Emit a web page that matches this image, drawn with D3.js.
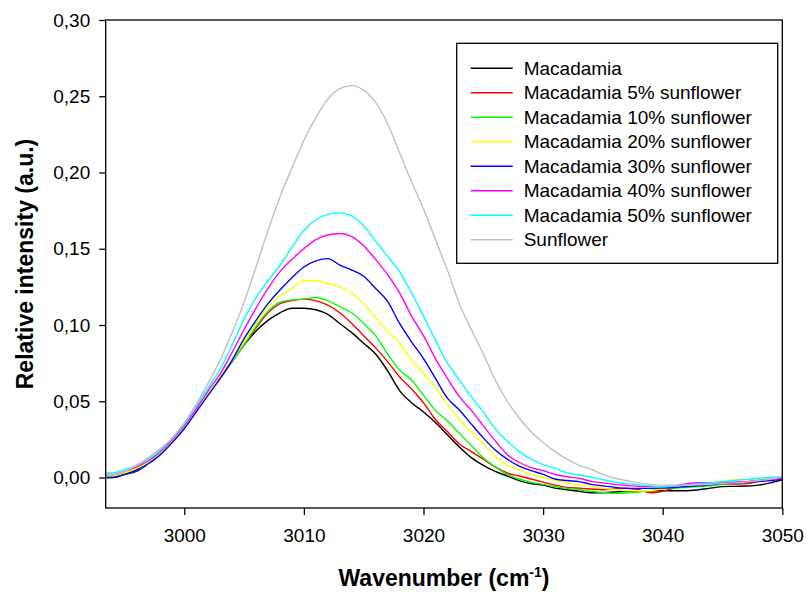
<!DOCTYPE html>
<html>
<head>
<meta charset="utf-8">
<script src="https://cdn.jsdelivr.net/npm/d3@7"></script>
<style>
  body { margin: 0; background: #fff; }
  text { font-family: "Liberation Sans", Arial, sans-serif; }
</style>
</head>
<body>
<div id="chart-container"></div>
<script>
const wavenumber = [2993.5, 2994, 2995, 2996, 2997, 2998, 2999, 3000, 3001, 3002,
  3003, 3004, 3005, 3006, 3007, 3008, 3009, 3010, 3011, 3012,
  3013, 3014, 3015, 3016, 3017, 3018, 3019, 3020, 3021, 3022,
  3023, 3024, 3025, 3026, 3027, 3028, 3029, 3030, 3031, 3032,
  3033, 3034, 3035, 3036, 3037, 3038, 3039, 3040, 3041, 3042,
  3043, 3044, 3045, 3046, 3047, 3048, 3049, 3050];

const macadamia = [0.000, 0.000, 0.002, 0.005, 0.010, 0.016, 0.024, 0.033, 0.044, 0.055,
  0.065, 0.076, 0.087, 0.096, 0.103, 0.108, 0.111, 0.111, 0.110, 0.107,
  0.101, 0.095, 0.088, 0.081, 0.070, 0.057, 0.049, 0.043, 0.036, 0.028,
  0.020, 0.013, 0.008, 0.004, 0.001, -0.002, -0.004, -0.005, -0.007, -0.008,
  -0.009, -0.010, -0.010, -0.0095, -0.009, -0.009, -0.0088, -0.0087, -0.0087, -0.0087,
  -0.008, -0.007, -0.006, -0.0058, -0.0056, -0.005, -0.0035, -0.0015];

const mac5 = [0.001, 0.001, 0.003, 0.006, 0.010, 0.016, 0.024, 0.033, 0.044, 0.055,
  0.065, 0.076, 0.087, 0.098, 0.108, 0.114, 0.116, 0.117, 0.116, 0.113,
  0.108, 0.101, 0.093, 0.085, 0.076, 0.066, 0.058, 0.049, 0.038, 0.030,
  0.022, 0.017, 0.012, 0.007, 0.003, 0.001, -0.001, -0.003, -0.005, -0.0065,
  -0.007, -0.0075, -0.008, -0.0075, -0.007, -0.008, -0.010, -0.009, -0.007, -0.006,
  -0.005, -0.0045, -0.0045, -0.0043, -0.004, -0.0025, -0.0012, 0.0001];

const mac10 = [0.001, 0.001, 0.003, 0.006, 0.010, 0.016, 0.024, 0.033, 0.044, 0.055,
  0.065, 0.076, 0.087, 0.099, 0.109, 0.115, 0.1165, 0.117, 0.118, 0.116,
  0.112, 0.108, 0.101, 0.093, 0.081, 0.0705, 0.064, 0.054, 0.044, 0.037,
  0.029, 0.021, 0.013, 0.007, 0.002, -0.001, -0.003, -0.0045, -0.006, -0.0072,
  -0.008, -0.009, -0.0098, -0.0104, -0.010, -0.0095, -0.0085, -0.0075, -0.007, -0.0065,
  -0.006, -0.0055, -0.0045, -0.0038, -0.003, -0.002, -0.001, -0.0005];

const mac20 = [0.001, 0.001, 0.003, 0.006, 0.010, 0.016, 0.024, 0.033, 0.044, 0.055,
  0.066, 0.077, 0.089, 0.101, 0.112, 0.119, 0.124, 0.129, 0.129, 0.1273,
  0.125, 0.121, 0.114, 0.105, 0.096, 0.088, 0.077, 0.068, 0.059, 0.048,
  0.038, 0.030, 0.022, 0.014, 0.008, 0.005, 0.002, 0.000, -0.002, -0.0035,
  -0.0048, -0.0058, -0.007, -0.008, -0.0087, -0.0087, -0.0085, -0.0075, -0.006, -0.005,
  -0.0045, -0.0038, -0.0025, -0.0015, -0.0012, -0.0018, -0.001, 0.0001];

const mac30 = [0.000, 0.000, 0.002, 0.004, 0.009, 0.015, 0.023, 0.032, 0.043, 0.054,
  0.065, 0.077, 0.091, 0.103, 0.114, 0.123, 0.131, 0.138, 0.142, 0.1435,
  0.1393, 0.136, 0.132, 0.124, 0.1155, 0.101, 0.089, 0.078, 0.065, 0.052,
  0.0443, 0.035, 0.026, 0.018, 0.012, 0.0075, 0.0045, 0.002, -0.001, -0.002,
  -0.0027, -0.0045, -0.0055, -0.0065, -0.0071, -0.0071, -0.0071, -0.007, -0.0065, -0.006,
  -0.0055, -0.0048, -0.004, -0.0036, -0.003, -0.0027, -0.002, -0.0012];

const mac40 = [0.002, 0.002, 0.004, 0.007, 0.011, 0.017, 0.025, 0.034, 0.045, 0.057,
  0.068, 0.082, 0.097, 0.111, 0.124, 0.135, 0.143, 0.150, 0.156, 0.159,
  0.160, 0.158, 0.152, 0.143, 0.133, 0.121, 0.106, 0.093, 0.078, 0.065,
  0.053, 0.044, 0.034, 0.024, 0.015, 0.010, 0.0065, 0.0045, 0.002, 0.0005,
  -0.0005, -0.0025, -0.0035, -0.0045, -0.0052, -0.0058, -0.006, -0.006, -0.0055, -0.004,
  -0.0034, -0.0034, -0.0032, -0.003, -0.0027, -0.002, -0.0012, -0.0005];

const mac50 = [0.003, 0.003, 0.005, 0.008, 0.012, 0.018, 0.026, 0.035, 0.047, 0.059,
  0.071, 0.087, 0.104, 0.118, 0.129, 0.139, 0.151, 0.162, 0.169, 0.1725,
  0.1735, 0.1715, 0.165, 0.155, 0.145, 0.135, 0.121, 0.106, 0.090, 0.075,
  0.064, 0.053, 0.043, 0.032, 0.024, 0.017, 0.012, 0.0085, 0.006, 0.003,
  0.0016, 0.0002, -0.0015, -0.003, -0.004, -0.0048, -0.0055, -0.006, -0.0055, -0.005,
  -0.0042, -0.0035, -0.0028, -0.002, -0.0012, -0.0005, 0.0000, 0.0005];

const sunflower = [0.002, 0.002, 0.004, 0.008, 0.013, 0.019, 0.026, 0.036, 0.048, 0.062,
  0.077, 0.095, 0.115, 0.138, 0.162, 0.184, 0.203, 0.221, 0.236, 0.248,
  0.255, 0.257, 0.254, 0.246, 0.232, 0.213, 0.194, 0.176, 0.156, 0.136,
  0.114, 0.097, 0.081, 0.064, 0.050, 0.039, 0.030, 0.023, 0.017, 0.012,
  0.008, 0.0055, 0.002, -0.0005, -0.002, -0.0035, -0.0045, -0.005, -0.005, -0.005,
  -0.0048, -0.0045, -0.004, -0.0035, -0.003, -0.002, -0.001, 0.0005];

const seriesNames = ["Macadamia", "Macadamia 5% sunflower", "Macadamia 10% sunflower",
  "Macadamia 20% sunflower", "Macadamia 30% sunflower", "Macadamia 40% sunflower",
  "Macadamia 50% sunflower", "Sunflower"];
const seriesValues = [macadamia, mac5, mac10, mac20, mac30, mac40, mac50, sunflower];
const seriesColors = ["#000000", "#ff0000", "#00ff00", "#ffff00", "#0000ff", "#ff00ff", "#00ffff", "#c0c0c0"];

const xTicks = [3000, 3010, 3020, 3030, 3040, 3050];
const yTicks = [0, 0.05, 0.10, 0.15, 0.20, 0.25, 0.30];

const chartWidth = 806;
const chartHeight = 592;
const margin = { top: 20, right: 23.7, bottom: 84, left: 105.7 };
const width = chartWidth - margin.left - margin.right;
const height = chartHeight - margin.top - margin.bottom;

const svg = d3.select("#chart-container")
    .append("svg")
    .attr("width", chartWidth)
    .attr("height", chartHeight)
    .append("g")
    .attr("transform", `translate(${margin.left}, ${margin.top})`);

const xScale = d3.scaleLinear()
    .domain([2993.43, 3050])
    .range([0, width]);

const yScale = d3.scaleLinear()
    .domain([-0.02, 0.30])
    .range([height, 0]);

const commaFormat = d => d3.format(".2f")(d).replace(".", ",");

// lines first, frame and axes on top
const line = d3.line()
    .x(d => xScale(d[0]))
    .y(d => yScale(d[1]))
    .curve(d3.curveMonotoneX);

svg.selectAll(".series")
    .data(seriesValues)
    .enter().append("path")
    .attr("class", "series")
    .attr("d", vals => line(vals.map((v, i) => [wavenumber[i], v])))
    .attr("fill", "none")
    .attr("stroke", (d, i) => seriesColors[i])
    .attr("stroke-width", 1.4);

svg.append("rect")
    .attr("x", 0)
    .attr("y", 0)
    .attr("width", width)
    .attr("height", height)
    .attr("fill", "none")
    .attr("stroke", "#000")
    .attr("stroke-width", 1.3);

const xAxis = d3.axisBottom(xScale)
    .tickValues(xTicks)
    .tickFormat(d3.format("d"))
    .tickSize(7)
    .tickSizeOuter(0)
    .tickPadding(14);

const yAxis = d3.axisLeft(yScale)
    .tickValues(yTicks)
    .tickFormat(commaFormat)
    .tickSize(6.5)
    .tickSizeOuter(0)
    .tickPadding(9);

const gx = svg.append("g")
    .attr("transform", `translate(0, ${height})`)
    .call(xAxis);

const gy = svg.append("g")
    .call(yAxis);

[gx, gy].forEach(g => {
    g.select(".domain").remove();
    g.selectAll(".tick line").attr("stroke", "#000").attr("stroke-width", 1.3);
    g.selectAll(".tick text")
        .attr("fill", "#000")
        .style("font-family", "'Liberation Sans', Arial, sans-serif")
        .style("font-size", "19px");
});

svg.append("text")
    .attr("x", width / 2)
    .attr("y", height + 78)
    .attr("text-anchor", "middle")
    .style("font-size", "23px")
    .style("font-weight", "bold")
    .text("Wavenumber (cm")
    .call(t => t.append("tspan")
        .attr("dy", -9)
        .style("font-size", "14px")
        .text("-1"))
    .call(t => t.append("tspan")
        .attr("dy", 9)
        .text(")"));

svg.append("text")
    .attr("transform", "rotate(-90)")
    .attr("x", -height / 2)
    .attr("y", -margin.left + 33)
    .attr("text-anchor", "middle")
    .style("font-size", "23px")
    .style("font-weight", "bold")
    .text("Relative intensity (a.u.)");

// legend
const legend = svg.append("g")
    .attr("transform", `translate(${456.7 - margin.left}, ${43.3 - margin.top})`);

legend.append("rect")
    .attr("x", 0)
    .attr("y", 0)
    .attr("width", 321)
    .attr("height", 220)
    .attr("fill", "#fff")
    .attr("stroke", "#000")
    .attr("stroke-width", 1.3);

const rows = legend.selectAll(".legend-row")
    .data(seriesNames)
    .enter().append("g")
    .attr("class", "legend-row")
    .attr("transform", (d, i) => `translate(0, ${25 + i * 24.5})`);

rows.append("line")
    .attr("x1", 14)
    .attr("x2", 56)
    .attr("y1", 0)
    .attr("y2", 0)
    .attr("stroke", (d, i) => seriesColors[i])
    .attr("stroke-width", 1.4);

rows.append("text")
    .attr("x", 67)
    .attr("y", 0)
    .attr("dy", "0.35em")
    .style("font-size", "19px")
    .text(d => d);
</script>
</body>
</html>
